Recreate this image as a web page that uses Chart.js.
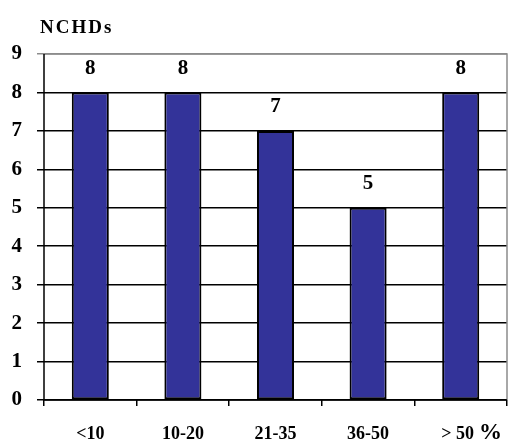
<!DOCTYPE html>
<html>
<head>
<meta charset="utf-8">
<script src="https://cdn.jsdelivr.net/npm/chart.js@4/dist/chart.umd.min.js"></script>
<style>
  html, body { margin: 0; padding: 0; background: #fff; }
  #wrap { width: 512px; height: 443px; }
</style>
</head>
<body>
<div id="wrap"><canvas id="c" width="512" height="443"></canvas></div>
<script>
const categories = ['<10', '10-20', '21-35', '36-50', '> 50'];
const counts = [8, 8, 7, 5, 8];
const yTicks = [0, 1, 2, 3, 4, 5, 6, 7, 8, 9];
const axisTitle = 'NCHDs';
const unitLabel = '%';

const SERIF = '"Liberation Serif", "DejaVu Serif", serif';

// Frame: gray top/right edges, black left/bottom axes, plus axis texts
const framePlugin = {
  id: 'frame',
  beforeDatasetsDraw(chart) {
    const { ctx, chartArea: a } = chart;
    ctx.save();
    ctx.lineWidth = 1.5;
    ctx.strokeStyle = '#8c8c8c';
    ctx.beginPath();
    ctx.moveTo(a.left, a.top);
    ctx.lineTo(a.right, a.top);
    ctx.lineTo(a.right, a.bottom);
    ctx.stroke();
    ctx.strokeStyle = '#000';
    ctx.beginPath();
    ctx.moveTo(a.left, a.top);
    ctx.lineTo(a.left, a.bottom);
    ctx.lineTo(a.right, a.bottom);
    ctx.stroke();
    ctx.restore();
  },
  afterDraw(chart) {
    const { ctx, chartArea: a } = chart;
    const xScale = chart.scales.x;
    ctx.save();
    ctx.fillStyle = '#000';
    ctx.textBaseline = 'alphabetic';

    // y-axis title
    ctx.font = 'bold 19px ' + SERIF;
    ctx.letterSpacing = '2px';
    ctx.textAlign = 'left';
    ctx.fillText(axisTitle, a.left - 4, a.top - 21);
    ctx.letterSpacing = '0px';

    // category labels
    ctx.font = 'bold 18px ' + SERIF;
    ctx.textAlign = 'center';
    const baseY = a.bottom + 39;
    let lastRight = 0;
    categories.forEach((label, i) => {
      const x = xScale.getPixelForValue(i);
      ctx.fillText(label, x - (i === categories.length - 1 ? 3 : 0), baseY);
      lastRight = x - 3 + ctx.measureText(label).width / 2;
    });

    // unit after the last category
    ctx.font = 'bold 23px ' + SERIF;
    ctx.textAlign = 'left';
    ctx.fillText(unitLabel, lastRight + 5, baseY);
    ctx.restore();
  }
};

// Value labels above each bar
const valueLabels = {
  id: 'valueLabels',
  afterDatasetsDraw(chart) {
    const { ctx } = chart;
    const meta = chart.getDatasetMeta(0);
    ctx.save();
    ctx.font = 'bold 21px ' + SERIF;
    ctx.fillStyle = '#000';
    ctx.textAlign = 'center';
    ctx.textBaseline = 'middle';
    meta.data.forEach((bar, i) => {
      ctx.fillText(String(counts[i]), bar.x, bar.y - 24);
    });
    ctx.restore();
  }
};

new Chart(document.getElementById('c'), {
  type: 'bar',
  data: {
    labels: categories,
    datasets: [{
      data: counts,
      backgroundColor: '#333399',
      borderColor: '#000',
      borderWidth: 2,
      borderSkipped: false,
      categoryPercentage: 1,
      barPercentage: 0.4
    }]
  },
  options: {
    responsive: false,
    animation: false,
    devicePixelRatio: 1,
    layout: { padding: { top: 54, right: 5, left: 0, bottom: 0 } },
    plugins: {
      legend: { display: false },
      tooltip: { enabled: false },
      title: { display: false }
    },
    scales: {
      x: {
        afterFit(scale) { scale.height = 43; },
        border: { display: false },
        grid: {
          offset: true,
          drawOnChartArea: false,
          drawTicks: true,
          tickLength: 6,
          color: '#000',
          lineWidth: 1.5
        },
        ticks: { display: false }
      },
      y: {
        min: 0,
        max: 9,
        afterFit(scale) { scale.width = 44; },
        afterBuildTicks(scale) { scale.ticks = yTicks.map(v => ({ value: v })); },
        border: { display: false },
        grid: {
          drawTicks: true,
          tickLength: 7,
          color: ctx => (ctx.tick && ctx.tick.value === 9 ? '#8c8c8c' : '#000'),
          lineWidth: 1.5
        },
        ticks: {
          color: '#000',
          font: { family: SERIF, size: 21, weight: 'bold' },
          padding: 15
        }
      }
    }
  },
  plugins: [framePlugin, valueLabels]
});
</script>
</body>
</html>
